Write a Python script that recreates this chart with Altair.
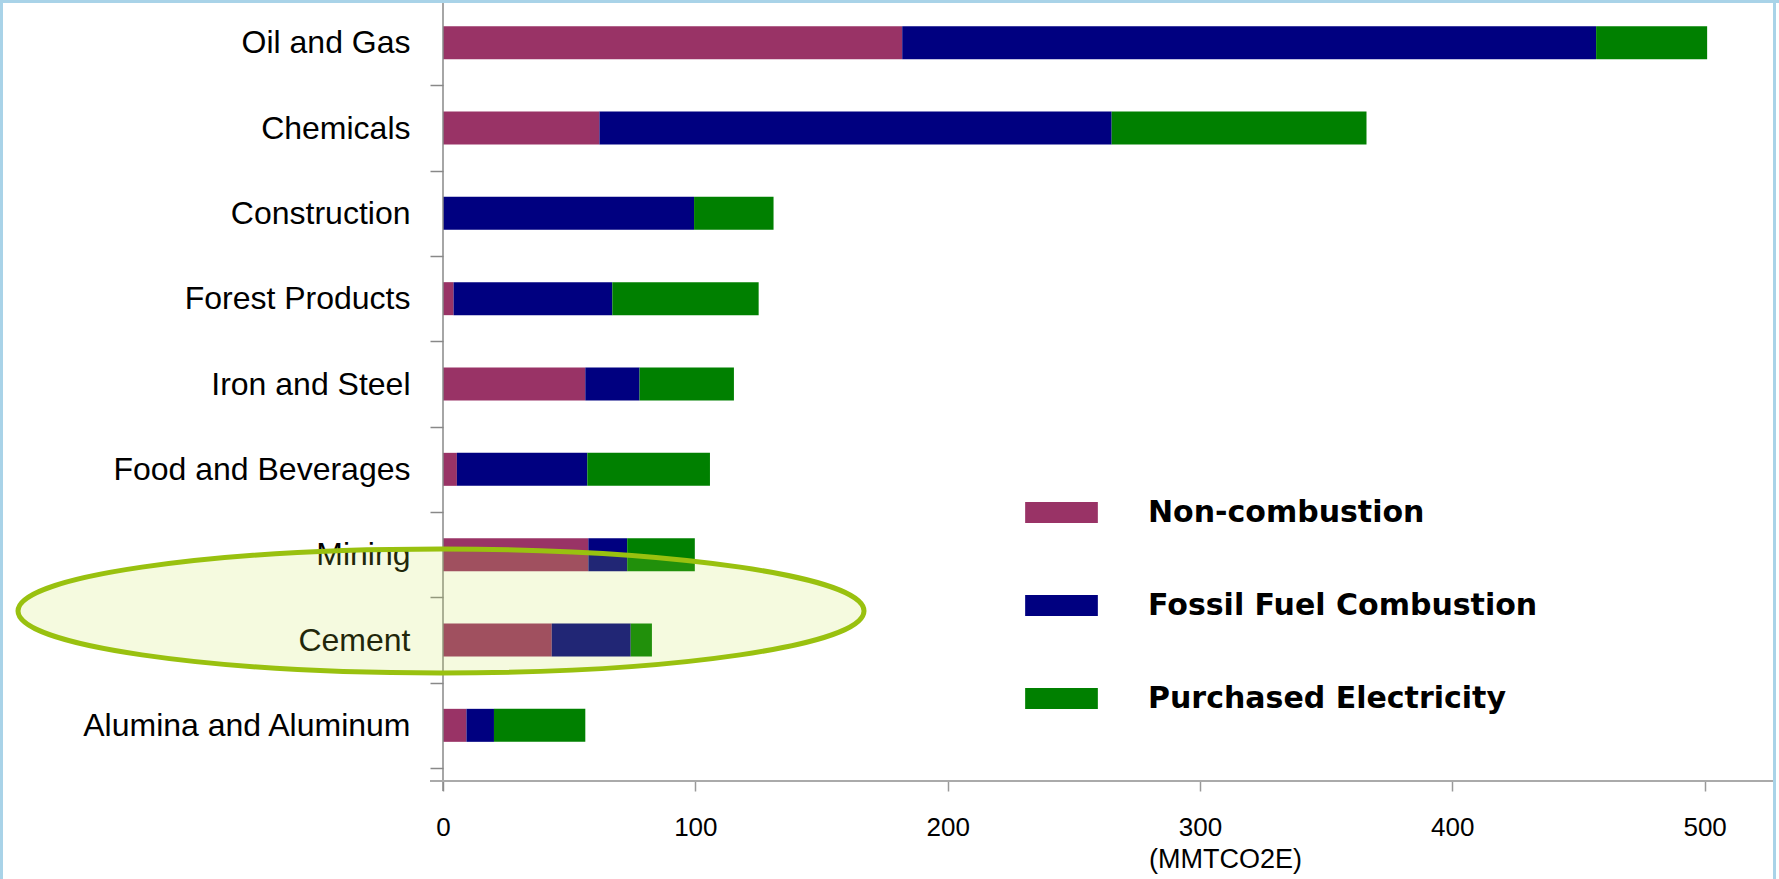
import altair as alt
import pandas as pd

# Industrial sectors, top to bottom
sectors = ["Oil and Gas", "Chemicals", "Construction", "Forest Products", "Iron and Steel",
           "Food and Beverages", "Mining", "Cement", "Alumina and Aluminum"]

# Emission sources (stack order left to right)
sources = ["Non-combustion", "Fossil Fuel Combustion", "Purchased Electricity"]
source_colors = ["#993366", "#000080", "#008000"]

# Emissions by source, MMTCO2E
non_combustion = [182, 62, 0, 4.2, 56.4, 5.5, 57.6, 43.1, 9.3]
fossil_fuel = [275, 203, 99.5, 62.9, 21.5, 51.7, 15.4, 31.3, 10.9]
purchased_elec = [44, 101, 31.5, 58, 37.4, 48.6, 26.8, 8.4, 36.2]

x_ticks = [0, 100, 200, 300, 400, 500]
x_max = 527.1

rows = []
for series_idx, (src, vals) in enumerate(zip(sources, [non_combustion, fossil_fuel, purchased_elec])):
    for sec, v in zip(sectors, vals):
        rows.append({"sector": sec, "source": src, "value": v, "order": series_idx})
df = pd.DataFrame(rows)

W, H = 1330, 781
BAND_END = 768

RECT_SHAPE = "M-1,-0.289H1V0.289H-1Z"
ELLIPSE_SHAPE = ("M-1,0 C-1,-0.081 -0.5523,-0.1466 0,-0.1466 "
                 "C0.5523,-0.1466 1,-0.081 1,0 "
                 "C1,0.081 0.5523,0.1466 0,0.1466 "
                 "C-0.5523,0.1466 -1,0.081 -1,0 Z")

bars = alt.Chart(df).mark_bar(size=33).encode(
    x=alt.X(
        "value:Q", stack="zero",
        scale=alt.Scale(domain=[0, x_max], nice=False),
        axis=alt.Axis(
            values=x_ticks, title="(MMTCO2E)", domain=False, grid=False,
            tickSize=10, tickColor="#999999", tickWidth=1.5,
            labelFont="Liberation Sans", labelFontSize=26, labelColor="#000000",
            labelPadding=23, labelFlush=False,
            titleFont="Liberation Sans", titleFontSize=27, titleFontWeight="normal",
            titleColor="#000000", titleX=782, titleY=86, titleBaseline="alphabetic",
            titleAlign="center",
        ),
    ),
    y=alt.Y(
        "sector:N", sort=sectors,
        scale=alt.Scale(range=[0, BAND_END], paddingInner=0, paddingOuter=0),
        axis=alt.Axis(
            title=None, domain=False, tickBand="extent", tickSize=13,
            tickColor="#888888", tickWidth=1.5,
            labelFont="Liberation Sans", labelFontSize=32, labelColor="#000000",
            labelPadding=20, labelLimit=0,
        ),
    ),
    color=alt.Color(
        "source:N", sort=sources,
        scale=alt.Scale(domain=sources, range=source_colors),
        legend=alt.Legend(
            title=None, orient="none", legendX=582, legendY=476, direction="vertical",
            symbolType=RECT_SHAPE, symbolSize=5285, symbolStrokeWidth=0, symbolOpacity=1,
            labelFont="DejaVu Sans", labelFontWeight="bold", labelFontSize=30,
            labelColor="#000000", labelOffset=50, labelLimit=0, rowPadding=41, padding=0,
        ),
    ),
    order=alt.Order("order:Q", sort="ascending"),
)

one = pd.DataFrame({"k": [0]})

# axis lines
y_line = alt.Chart(one).mark_rule(color="#888888", strokeWidth=1.5).encode(
    x=alt.datum(0), y=alt.value(3), y2=alt.value(H + 10)
)
x_line = alt.Chart(one).mark_rule(color="#aaaaaa", strokeWidth=2).encode(
    x=alt.value(-13), x2=alt.value(W), y=alt.value(H)
)

# highlight ellipse around Cement
ellipse = alt.Chart(one).mark_point(
    shape=ELLIPSE_SHAPE, size=715716, fill="#c5e040", fillOpacity=0.17,
    stroke="#99c10f", strokeWidth=5, strokeOpacity=1, opacity=1,
    xOffset=-2, yOffset=-29,
).encode(x=alt.datum(0), y=alt.datum("Cement"))

# slide frame
frame_color = "#a9d3e8"
frame_top = alt.Chart(one).mark_rect(color=frame_color).encode(
    x=alt.value(-443), x2=alt.value(1336), y=alt.value(0), y2=alt.value(3)
)
frame_left = alt.Chart(one).mark_rect(color=frame_color).encode(
    x=alt.value(-443), x2=alt.value(-440), y=alt.value(0), y2=alt.value(H + 98)
)
frame_right = alt.Chart(one).mark_rect(color=frame_color).encode(
    x=alt.value(W), x2=alt.value(W + 3), y=alt.value(0), y2=alt.value(H + 98)
)

chart = alt.layer(
    bars, y_line, x_line, ellipse, frame_top, frame_left, frame_right
).properties(
    width=W, height=H,
    autosize=alt.AutoSizeParams(type="none"),
    padding={"left": 443, "top": 0, "right": 6, "bottom": 98},
    background="white",
).configure_view(stroke=None)

chart.save("out.html", embed_options={"renderer": "svg", "actions": False})
